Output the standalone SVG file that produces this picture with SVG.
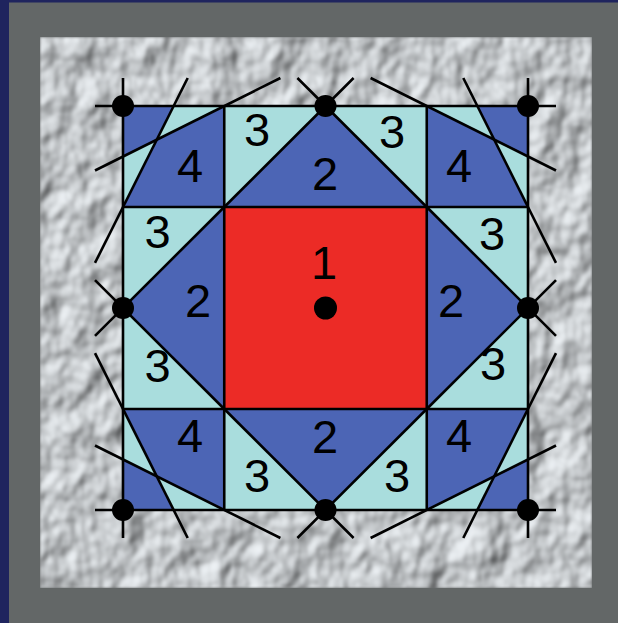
<svg xmlns="http://www.w3.org/2000/svg" width="618" height="623" viewBox="0 0 618 623">
<style>
.bg{fill:#636767}
.navy{fill:#1f245e}
.blue{fill:#4c65b5}
.light{fill:#a9dddd}
.red{fill:#ec2b26}
.ln{stroke:#000;stroke-width:2.6;fill:none;stroke-linecap:butt}
.dot{fill:#000}
.lbl{font-family:"Liberation Sans",Arial,sans-serif;font-size:47px;fill:#000;text-anchor:middle}
</style>
<defs>
<filter id="metal" x="0" y="0" width="1" height="1" filterUnits="objectBoundingBox" color-interpolation-filters="sRGB">
<feTurbulence type="fractalNoise" baseFrequency="0.03 0.024" numOctaves="3" seed="11" result="n"/>
<feDiffuseLighting in="n" surfaceScale="6.5" diffuseConstant="1.1" lighting-color="#d8dcdf" result="l"><feDistantLight azimuth="225" elevation="55"/></feDiffuseLighting>
<feGaussianBlur in="l" stdDeviation="1.1" result="b"/>
<feComposite in="b" in2="SourceGraphic" operator="in"/>
</filter>
</defs>
<g id="background">
<rect class="bg" x="0" y="0" width="618" height="623"/>
<rect class="navy" x="0" y="0" width="618" height="2.5"/>
<rect class="navy" x="0" y="0" width="9" height="623"/>
<rect x="40" y="37" width="552" height="551" fill="#b4b8ba" filter="url(#metal)"/>
</g>
<g id="fills">
<rect class="blue" x="123" y="106" width="405" height="404"/>
<polygon class="light" points="173.6,106 224.25,106 156.75,139.67"/>
<polygon class="light" points="123,156.5 156.75,139.67 123,207"/>
<polygon class="light" points="477.4,106 426.75,106 494.25,139.67"/>
<polygon class="light" points="528,156.5 494.25,139.67 528,207"/>
<polygon class="light" points="173.6,510 224.25,510 156.75,476.33"/>
<polygon class="light" points="123,459.5 156.75,476.33 123,409"/>
<polygon class="light" points="477.4,510 426.75,510 494.25,476.33"/>
<polygon class="light" points="528,459.5 494.25,476.33 528,409"/>
<polygon class="light" points="224.25,106 325.5,106 224.25,207"/>
<polygon class="light" points="325.5,106 426.75,106 426.75,207"/>
<polygon class="light" points="123,207 224.25,207 123,308"/>
<polygon class="light" points="123,308 224.25,409 123,409"/>
<polygon class="light" points="426.75,207 528,207 528,308"/>
<polygon class="light" points="528,308 528,409 426.75,409"/>
<polygon class="light" points="224.25,409 224.25,510 325.5,510"/>
<polygon class="light" points="325.5,510 426.75,510 426.75,409"/>
</g>
<g id="cell-center"><rect class="red" x="224.25" y="207" width="202.5" height="202"/></g>
<g id="connectors">
<line class="ln" x1="95" y1="106" x2="556" y2="106"/>
<line class="ln" x1="95" y1="510" x2="556" y2="510"/>
<line class="ln" x1="123" y1="78" x2="123" y2="538"/>
<line class="ln" x1="528" y1="78" x2="528" y2="538"/>
<line class="ln" x1="224.25" y1="106" x2="224.25" y2="510"/>
<line class="ln" x1="426.75" y1="106" x2="426.75" y2="510"/>
<line class="ln" x1="123" y1="207" x2="528" y2="207"/>
<line class="ln" x1="123" y1="409" x2="528" y2="409"/>
<line class="ln" x1="224.25" y1="207" x2="353.6" y2="78"/>
<line class="ln" x1="426.75" y1="207" x2="297.4" y2="78"/>
<line class="ln" x1="224.25" y1="409" x2="95" y2="280.1"/>
<line class="ln" x1="224.25" y1="207" x2="95" y2="335.9"/>
<line class="ln" x1="426.75" y1="207" x2="556" y2="335.9"/>
<line class="ln" x1="426.75" y1="409" x2="556" y2="280.1"/>
<line class="ln" x1="224.25" y1="409" x2="353.6" y2="538"/>
<line class="ln" x1="426.75" y1="409" x2="297.4" y2="538"/>
<line class="ln" x1="95" y1="170.5" x2="280.4" y2="78"/>
<line class="ln" x1="187.7" y1="78" x2="95" y2="262.9"/>
<line class="ln" x1="556" y1="170.5" x2="370.6" y2="78"/>
<line class="ln" x1="463.3" y1="78" x2="556" y2="262.9"/>
<line class="ln" x1="95" y1="445.5" x2="280.4" y2="538"/>
<line class="ln" x1="187.7" y1="538" x2="95" y2="353.1"/>
<line class="ln" x1="556" y1="445.5" x2="370.6" y2="538"/>
<line class="ln" x1="463.3" y1="538" x2="556" y2="353.1"/>
</g>
<g id="points">
<circle class="dot" cx="123" cy="106" r="11"/>
<circle class="dot" cx="325.5" cy="106" r="11"/>
<circle class="dot" cx="528" cy="106" r="11"/>
<circle class="dot" cx="123" cy="308" r="11"/>
<circle class="dot" cx="528" cy="308" r="11"/>
<circle class="dot" cx="123" cy="510" r="11"/>
<circle class="dot" cx="325.5" cy="510" r="11"/>
<circle class="dot" cx="528" cy="510" r="11"/>
<circle class="dot" cx="325.5" cy="308" r="11.5"/>
</g>
<g id="labels">
<text class="lbl" x="324" y="279">1</text>
<text class="lbl" x="325" y="190">2</text>
<text class="lbl" x="198" y="317">2</text>
<text class="lbl" x="451" y="317">2</text>
<text class="lbl" x="325" y="453">2</text>
<text class="lbl" x="257" y="146">3</text>
<text class="lbl" x="392" y="148">3</text>
<text class="lbl" x="157.5" y="248">3</text>
<text class="lbl" x="492" y="250">3</text>
<text class="lbl" x="157.5" y="382">3</text>
<text class="lbl" x="493" y="380">3</text>
<text class="lbl" x="257" y="492">3</text>
<text class="lbl" x="397" y="492">3</text>
<text class="lbl" x="190" y="182">4</text>
<text class="lbl" x="459" y="182">4</text>
<text class="lbl" x="190" y="452">4</text>
<text class="lbl" x="459" y="452">4</text>
</g>
</svg>
